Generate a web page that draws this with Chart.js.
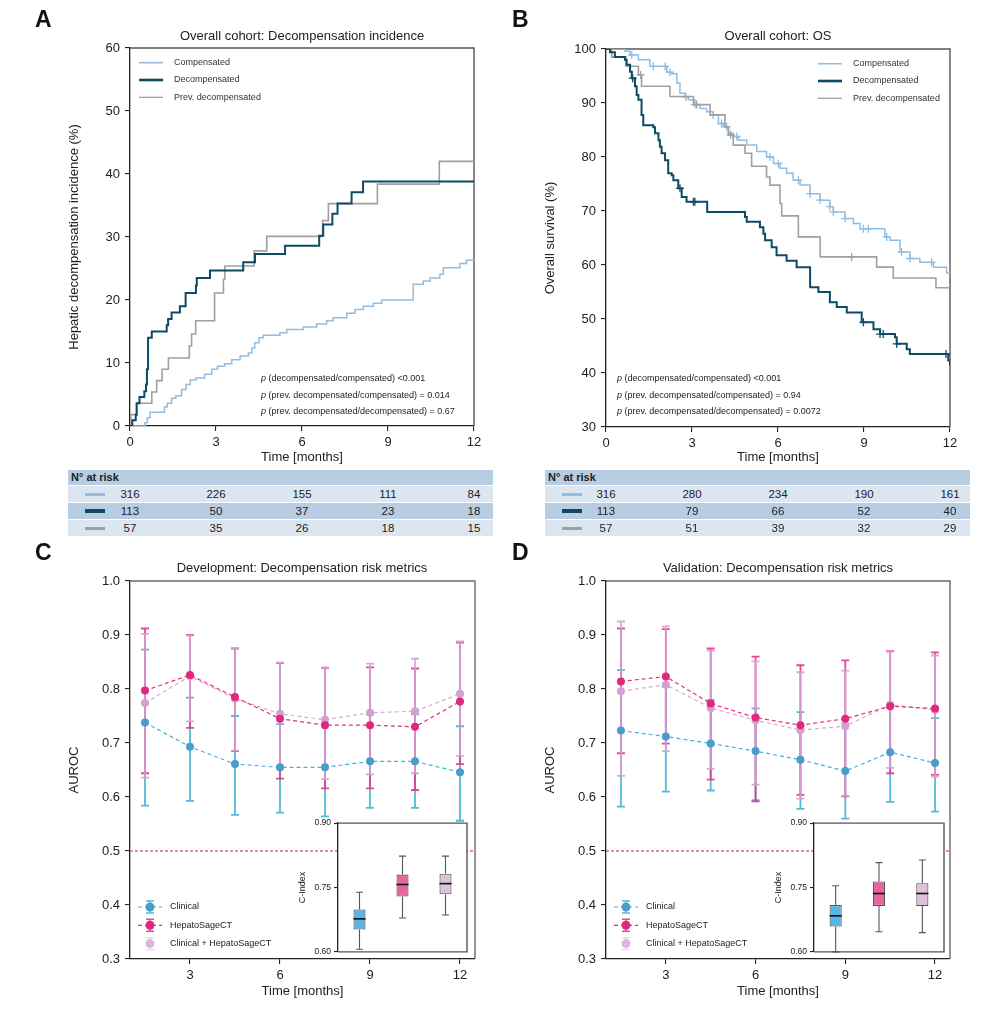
<!DOCTYPE html>
<html lang="en">
<head>
<meta charset="utf-8">
<title>Decompensation figure</title>
<script src="https://cdn.jsdelivr.net/npm/chart.js@4.4.1/dist/chart.umd.min.js"></script>
<style>
  body { margin:0; width:996px; height:1014px; position:relative; overflow:hidden; background:#fff;
         font-family:"Liberation Sans", Arial, sans-serif; color:#222; }
  canvas { position:absolute; }
  .letter { position:absolute; font-size:23px; font-weight:bold; line-height:1; color:#111; }
  .title { position:absolute; width:500px; text-align:center; font-size:13px; line-height:16px; }
  .pval { position:absolute; font-size:9px; line-height:16.5px; white-space:nowrap; }
  .risk { position:absolute; width:425px; font-size:11.5px; }
  .risk .hd { height:15px; line-height:15px; background:#b8cce2; font-weight:bold; font-size:11px; padding-left:3px; box-sizing:border-box; }
  .risk .row { position:relative; height:16px; margin-top:1px; }
  .risk .lt { background:#dce6f1; }
  .risk .dk { background:#b8cce2; }
  .risk .sw { position:absolute; left:17px; top:7px; width:20px; height:3px; }
  .risk .num { position:absolute; top:0; line-height:16px; transform:translateX(-50%); }
</style>
</head>
<body>
<canvas id="cA" width="498" height="466" style="left:0;top:0"></canvas>
<canvas id="cB" width="520" height="466" style="left:476px;top:0"></canvas>
<canvas id="cC" width="498" height="474" style="left:0;top:540px"></canvas>
<canvas id="cD" width="520" height="474" style="left:476px;top:540px"></canvas>
<canvas id="cCi" width="180" height="145" style="left:290px;top:815px"></canvas>
<canvas id="cDi" width="180" height="145" style="left:766px;top:815px"></canvas>

<div class="letter" style="left:35px;top:8px">A</div>
<div class="letter" style="left:512px;top:8px">B</div>
<div class="letter" style="left:35px;top:541px">C</div>
<div class="letter" style="left:512px;top:541px">D</div>

<div class="title" style="left:52px;top:28px">Overall cohort: Decompensation incidence</div>
<div class="title" style="left:528px;top:28px">Overall cohort: OS</div>
<div class="title" style="left:52px;top:560px">Development: Decompensation risk metrics</div>
<div class="title" style="left:528px;top:560px">Validation: Decompensation risk metrics</div>

<div class="pval" style="left:261px;top:370px">
  <i>p</i> (decompensated/compensated) &lt;0.001<br>
  <i>p</i> (prev. decompensated/compensated) = 0.014<br>
  <i>p</i> (prev. decompensated/decompensated) = 0.67
</div>
<div class="pval" style="left:617px;top:370px">
  <i>p</i> (decompensated/compensated) &lt;0.001<br>
  <i>p</i> (prev. decompensated/compensated) = 0.94<br>
  <i>p</i> (prev. decompensated/decompensated) = 0.0072
</div>

<div class="risk" id="rtA" style="left:68px;top:470px">
  <div class="hd">N° at risk</div>
  <div class="row lt"><span class="sw" style="background:#92bde1"></span></div>
  <div class="row dk"><span class="sw" style="background:#0c4a66;height:4px;top:6px"></span></div>
  <div class="row lt"><span class="sw" style="background:#a0a0a0"></span></div>
</div>
<div class="risk" id="rtB" style="left:545px;top:470px">
  <div class="hd">N° at risk</div>
  <div class="row lt"><span class="sw" style="background:#92bde1"></span></div>
  <div class="row dk"><span class="sw" style="background:#0c4a66;height:4px;top:6px"></span></div>
  <div class="row lt"><span class="sw" style="background:#a0a0a0"></span></div>
</div>

<script>
// ---- panel A: cumulative decompensation incidence (%) ----
const A_COMP_T = [0, 0.52, 0.60, 0.70, 1.20, 1.30, 1.45, 1.60, 1.80, 1.95, 2.10, 2.30, 2.60, 2.85, 3.05, 3.30, 3.55, 3.84, 4.13, 4.25, 4.35, 4.50, 4.65, 5.23, 5.47, 6.05, 6.51, 6.86, 7.09, 7.56, 7.85, 8.14, 8.49, 8.78, 9.88, 10.23, 10.47, 10.81, 10.93, 11.51, 11.74, 12];
const A_COMP_V = [0, 0.5, 1.3, 2.2, 3.0, 3.6, 4.4, 4.8, 5.8, 6.6, 7.3, 7.6, 8.2, 9.0, 9.5, 9.9, 10.5, 11.1, 11.6, 12.4, 13.2, 14.0, 14.4, 14.8, 15.3, 15.7, 16.2, 16.7, 17.2, 17.9, 18.5, 19.0, 19.5, 20.0, 22.5, 23.0, 23.5, 24.1, 25.1, 25.8, 26.3, 26.3];
const A_DEC_T = [0, 0.08, 0.20, 0.23, 0.33, 0.50, 0.56, 0.59, 0.63, 0.76, 1.28, 1.33, 1.45, 1.74, 1.94, 2.30, 2.33, 2.79, 3.95, 4.36, 5.41, 6.60, 6.74, 7.06, 7.24, 7.73, 8.13, 12];
const A_DEC_V = [0, 0.9, 1.8, 3.6, 4.6, 5.5, 6.6, 9.0, 14.0, 15.0, 16.0, 17.0, 18.0, 19.0, 21.1, 22.3, 23.5, 24.7, 26.0, 27.3, 28.6, 30.2, 32.0, 33.7, 35.3, 37.1, 38.8, 38.8];
const A_PREV_T = [0, 0.03, 0.24, 0.76, 0.93, 1.12, 1.34, 2.07, 2.15, 2.29, 2.95, 3.26, 3.31, 4.33, 4.77, 6.72, 6.92, 8.63, 10.79, 12];
const A_PREV_V = [0, 1.8, 3.6, 5.4, 7.2, 9.0, 10.8, 12.7, 14.6, 16.7, 21.1, 23.3, 25.4, 27.8, 30.1, 32.6, 35.3, 38.4, 42.0, 42.0];

// ---- panel B: overall survival (%) ----
const B_COMP_T = [0, 0.66, 0.84, 1.13, 1.53, 2.12, 2.29, 2.47, 2.58, 2.76, 2.87, 3.10, 3.28, 3.51, 3.74, 3.92, 4.09, 4.27, 4.44, 4.62, 4.91, 5.26, 5.60, 5.84, 6.07, 6.30, 6.53, 6.77, 7.12, 7.47, 7.81, 7.93, 8.34, 8.63, 8.86, 9.73, 9.91, 10.26, 10.60, 10.95, 11.42, 11.88, 12];
const B_COMP_V = [100, 99.6, 98.9, 98.0, 96.8, 95.7, 95.4, 93.7, 91.8, 91.1, 90.6, 89.7, 89.0, 88.4, 87.8, 86.2, 85.6, 84.4, 83.8, 83.1, 82.2, 81.0, 80.0, 78.8, 77.9, 77.0, 75.7, 74.8, 73.2, 72.0, 70.8, 69.8, 68.6, 67.7, 66.7, 65.2, 64.6, 62.4, 61.2, 60.5, 59.6, 58.5, 58.5];
const B_COMP_CT = [0.90, 1.65, 2.06, 2.23, 2.79, 3.10, 3.74, 4.03, 4.21, 4.56, 5.72, 6.01, 6.71, 7.12, 7.47, 7.81, 7.93, 8.34, 8.98, 9.15, 9.79, 10.31, 10.60, 11.36];
const B_COMP_CV = [98.9, 96.8, 96.8, 95.7, 91.1, 89.7, 87.8, 86.2, 85.6, 83.8, 80.0, 78.8, 75.7, 73.2, 72.0, 70.8, 69.8, 68.6, 66.7, 66.7, 65.2, 62.4, 61.2, 60.5];
const B_DEC_T = [0, 0.14, 0.31, 0.66, 0.72, 0.84, 0.90, 1.01, 1.07, 1.13, 1.24, 1.30, 1.65, 1.71, 1.83, 1.88, 1.94, 2.06, 2.17, 2.29, 2.35, 2.52, 2.64, 2.81, 3.53, 4.85, 4.91, 5.37, 5.49, 5.55, 5.78, 5.95, 6.30, 6.65, 7.12, 7.41, 7.81, 8.05, 8.40, 8.92, 9.33, 9.56, 10.08, 10.14, 10.49, 10.60, 11.94, 12];
const B_DEC_V = [100, 99.4, 98.5, 98.0, 97.1, 95.8, 94.6, 93.1, 91.5, 90.6, 87.8, 85.9, 85.5, 84.4, 83.1, 81.9, 80.7, 79.4, 77.0, 76.6, 75.7, 74.2, 72.6, 71.7, 69.8, 68.9, 68.0, 67.0, 65.8, 64.6, 63.3, 61.8, 60.8, 59.6, 55.9, 55.0, 53.1, 52.2, 51.2, 49.4, 48.1, 47.2, 46.6, 45.4, 44.4, 43.5, 42.3, 41.3];
const B_DEC_CT = [0.93, 2.58, 3.05, 3.10, 8.98, 9.56, 9.67, 10.14, 11.86];
const B_DEC_CV = [94.6, 74.2, 71.7, 71.7, 49.4, 47.2, 47.2, 45.4, 43.5];
const B_PREV_T = [0, 0.20, 0.70, 1.13, 1.24, 2.23, 3.05, 3.63, 4.15, 4.27, 4.44, 4.85, 5.08, 5.60, 5.72, 6.07, 6.13, 6.71, 7.47, 9.44, 10.02, 11.51, 12];
const B_PREV_V = [100, 98.5, 96.8, 95.2, 93.1, 91.2, 89.7, 87.8, 85.6, 84.1, 82.2, 80.7, 78.3, 76.3, 74.8, 71.4, 69.1, 65.2, 61.5, 59.6, 57.6, 55.8, 55.8];
const B_PREV_CT = [1.21, 3.16, 4.35, 8.57];
const B_PREV_CV = [95.2, 89.7, 84.1, 61.5];

// ---- numbers at risk ----
const RISK_T = [0, 3, 6, 9, 12];
const A_RISK_COMP = [316, 226, 155, 111, 84];
const A_RISK_DEC = [113, 50, 37, 23, 18];
const A_RISK_PREV = [57, 35, 26, 18, 15];
const B_RISK_COMP = [316, 280, 234, 190, 161];
const B_RISK_DEC = [113, 79, 66, 52, 40];
const B_RISK_PREV = [57, 51, 39, 32, 29];

// ---- panels C/D: time-dependent AUROC with CI ----
const M_T = [1.5, 3, 4.5, 6, 7.5, 9, 10.5, 12];
const M_XTICKS = [3, 6, 9, 12];
const M_YTICKS = [0.3, 0.4, 0.5, 0.6, 0.7, 0.8, 0.9, 1.0];
const REF_X = [1, 12.5];
const REF_AUC = 0.5;

const C_CLIN = [0.738, 0.693, 0.661, 0.655, 0.655, 0.666, 0.666, 0.646];
const C_CLIN_LO = [0.584, 0.593, 0.567, 0.571, 0.564, 0.580, 0.580, 0.556];
const C_CLIN_HI = [0.873, 0.784, 0.750, 0.735, 0.735, 0.753, 0.753, 0.731];
const C_HEP = [0.797, 0.826, 0.785, 0.745, 0.733, 0.733, 0.730, 0.777];
const C_HEP_LO = [0.644, 0.728, 0.685, 0.634, 0.616, 0.616, 0.613, 0.661];
const C_HEP_HI = [0.912, 0.900, 0.875, 0.848, 0.839, 0.840, 0.838, 0.886];
const C_CMB = [0.774, 0.824, 0.782, 0.754, 0.743, 0.756, 0.759, 0.791];
const C_CMB_LO = [0.636, 0.740, 0.686, 0.655, 0.633, 0.642, 0.644, 0.676];
const C_CMB_HI = [0.902, 0.899, 0.875, 0.849, 0.840, 0.847, 0.856, 0.888];

const D_CLIN = [0.723, 0.712, 0.699, 0.685, 0.669, 0.648, 0.683, 0.663];
const D_CLIN_LO = [0.582, 0.610, 0.612, 0.594, 0.578, 0.560, 0.591, 0.573];
const D_CLIN_HI = [0.835, 0.804, 0.780, 0.764, 0.757, 0.736, 0.768, 0.746];
const D_HEP = [0.814, 0.823, 0.773, 0.747, 0.733, 0.745, 0.768, 0.764];
const D_HEP_LO = [0.681, 0.699, 0.632, 0.592, 0.604, 0.601, 0.644, 0.641];
const D_HEP_HI = [0.912, 0.911, 0.875, 0.860, 0.844, 0.853, 0.870, 0.868];
const D_CMB = [0.796, 0.808, 0.765, 0.742, 0.724, 0.731, 0.771, 0.761];
const D_CMB_LO = [0.639, 0.685, 0.652, 0.623, 0.597, 0.602, 0.654, 0.638];
const D_CMB_HI = [0.925, 0.916, 0.871, 0.851, 0.831, 0.834, 0.869, 0.862];

// ---- insets: C-index distributions ----
const BOX_LABELS = ['Clinical', 'HepatoSageCT', 'Clinical + HepatoSageCT'];
const BOX_YTICKS = [0.60, 0.75, 0.90];
const CI_MIN = [0.606, 0.679, 0.686];
const CI_Q1 = [0.652, 0.729, 0.734];
const CI_MED = [0.677, 0.757, 0.759];
const CI_Q3 = [0.699, 0.780, 0.782];
const CI_MAX = [0.739, 0.823, 0.823];
const DI_MIN = [0.600, 0.647, 0.645];
const DI_Q1 = [0.659, 0.707, 0.707];
const DI_MED = [0.684, 0.736, 0.736];
const DI_Q3 = [0.709, 0.764, 0.760];
const DI_MAX = [0.754, 0.808, 0.814];

const KM_LABELS = ['Compensated', 'Decompensated', 'Prev. decompensated'];

const FONT = '"Liberation Sans", Arial, sans-serif';
Chart.defaults.font.family = FONT;
Chart.defaults.color = '#222';

const COL_COMP = '#92bde1', COL_DEC = '#0c4a66', COL_PREV = '#a0a0a0';
const CLIN = { line: '#3fb4d6', point: '#4a9ccb', err: 'rgba(64,178,214,0.9)' };
const HEP = { line: '#e2307f', point: '#e0287f', err: 'rgba(228,52,136,0.9)' };
const CMB = { line: '#d9a9d6', point: '#d3a1d1', err: 'rgba(212,162,210,0.9)' };

function linAxis(o) {
  return {
    type: 'linear', min: o.min, max: o.max,
    ticks: { font: { size: o.fs || 13 }, padding: o.pad || 4, color: '#222', stepSize: o.step, callback: o.fmt },
    grid: { drawOnChartArea: false, tickLength: o.tl || 5, color: '#222', lineWidth: 1.1 },
    border: { display: true, color: '#222', width: 1.3 },
    title: o.title ? { display: true, text: o.title, font: { size: o.tfs || 13 }, color: '#222', padding: o.tpad || { top: 4, bottom: 4 } } : { display: false },
    afterFit: s => { if (s.isHorizontal()) s.height = o.size; else s.width = o.size; },
    afterBuildTicks: o.list ? (s => { s.ticks = o.list.map(v => ({ value: v })); }) : undefined
  };
}

function frame(fill, color) {
  return {
    id: 'frame',
    beforeDraw(c) {
      if (!fill) return;
      const a = c.chartArea, g = c.ctx;
      g.save(); g.fillStyle = '#fff'; g.fillRect(a.left, a.top, a.width, a.height); g.restore();
    },
    beforeDatasetsDraw(c) {
      const a = c.chartArea, g = c.ctx;
      g.save();
      g.strokeStyle = color || '#666'; g.lineWidth = 1.4;
      g.beginPath();
      g.moveTo(a.left, a.top); g.lineTo(a.right, a.top); g.lineTo(a.right, a.bottom);
      if (fill) g.lineTo(a.left, a.bottom);
      g.stroke();
      g.restore();
    }
  };
}

function kmLine(T, V, color, width) {
  return { type: 'line', data: T.map((t, i) => ({ x: t, y: V[i] })), borderColor: color, borderWidth: width,
           stepped: 'before', pointRadius: 0, fill: false };
}
function censor(T, V, color) {
  return { type: 'scatter', data: T.map((t, i) => ({ x: t, y: V[i] })), pointStyle: 'cross', pointRadius: 4,
           borderColor: color, backgroundColor: color, borderWidth: 1.3 };
}

function kmLegend(side) {
  const items = [[COL_COMP, 1.6], [COL_DEC, 2.6], [COL_PREV, 1.3]];
  return {
    id: 'kmlegend',
    afterDatasetsDraw(c) {
      const a = c.chartArea, g = c.ctx;
      g.save();
      g.font = '9px ' + FONT; g.textBaseline = 'middle'; g.fillStyle = '#333';
      items.forEach((it, k) => {
        const y = a.top + 14.7 + k * 17.3;
        const x0 = side === 'right' ? a.right - 132 : a.left + 9;
        g.strokeStyle = it[0]; g.lineWidth = it[1];
        g.beginPath(); g.moveTo(x0, y); g.lineTo(x0 + 24, y); g.stroke();
        g.fillText(KM_LABELS[k], x0 + 35, y);
      });
      g.restore();
    }
  };
}

function kmChart(id, sets, ymin, ymax, ytitle, pad, xsize) {
  return new Chart(document.getElementById(id), {
    type: 'line',
    data: { datasets: sets.ds },
    options: {
      responsive: false, animation: false,
      layout: { padding: pad },
      plugins: { legend: { display: false }, tooltip: { enabled: false } },
      scales: {
        x: linAxis({ min: 0, max: 12, step: 3, title: 'Time [months]', size: xsize, tpad: { top: 4, bottom: 1 } }),
        y: linAxis({ min: ymin, max: ymax, step: 10, title: ytitle, size: 67, pad: 5 })
      }
    },
    plugins: [frame(false, '#555'), kmLegend(sets.side)]
  });
}

const chartA = kmChart('cA', {
  side: 'left',
  ds: [kmLine(A_DEC_T, A_DEC_V, COL_DEC, 2), kmLine(A_PREV_T, A_PREV_V, COL_PREV, 1.6), kmLine(A_COMP_T, A_COMP_V, COL_COMP, 1.5)]
}, 0, 60, 'Hepatic decompensation incidence (%)', { left: 63, right: 24, top: 48, bottom: 0 }, 40);

const chartB = kmChart('cB', {
  side: 'right',
  ds: [censor(B_DEC_CT, B_DEC_CV, COL_DEC), kmLine(B_DEC_T, B_DEC_V, COL_DEC, 2),
       censor(B_PREV_CT, B_PREV_CV, COL_PREV), kmLine(B_PREV_T, B_PREV_V, COL_PREV, 1.6),
       censor(B_COMP_CT, B_COMP_CV, COL_COMP), kmLine(B_COMP_T, B_COMP_V, COL_COMP, 1.5)]
}, 30, 100, 'Overall survival (%)', { left: 63, right: 46, top: 49, bottom: 0 }, 39);

// ---- metric panels ----
function metricSet(V, st) {
  return { type: 'line', data: M_T.map((t, i) => ({ x: t, y: V[i] })), borderColor: st.line, borderWidth: 1.2,
           borderDash: [4, 3], pointRadius: 4, pointBackgroundColor: st.point, pointBorderColor: st.point,
           pointBorderWidth: 0, fill: false, tension: 0 };
}

function errorBars(groups) {
  return {
    id: 'errorbars',
    beforeDatasetsDraw(c) {
      const g = c.ctx, x = c.scales.x, y = c.scales.y;
      g.save();
      groups.forEach(gr => {
        g.strokeStyle = gr.st.err; g.lineWidth = 1.8;
        M_T.forEach((t, i) => {
          const px = x.getPixelForValue(t), lo = y.getPixelForValue(gr.lo[i]), hi = y.getPixelForValue(gr.hi[i]);
          g.beginPath();
          g.moveTo(px, lo); g.lineTo(px, hi);
          g.moveTo(px - 4, lo); g.lineTo(px + 4, lo);
          g.moveTo(px - 4, hi); g.lineTo(px + 4, hi);
          g.stroke();
        });
      });
      g.restore();
    }
  };
}

function metricLegend() {
  const items = [[CLIN, BOX_LABELS[0]], [HEP, BOX_LABELS[1]], [CMB, BOX_LABELS[2]]];
  return {
    id: 'metriclegend',
    afterDatasetsDraw(c) {
      const a = c.chartArea, g = c.ctx;
      g.save();
      g.font = '9px ' + FONT; g.textBaseline = 'middle';
      items.forEach((it, k) => {
        const st = it[0], y = a.bottom - 52 + k * 18.3, x = a.left + 20;
        if (k < 2) {
          g.strokeStyle = st.line; g.lineWidth = 1.2; g.setLineDash([4, 3]);
          g.beginPath(); g.moveTo(x - 12, y); g.lineTo(x + 12, y); g.stroke();
          g.setLineDash([]);
        }
        g.strokeStyle = k < 2 ? st.err : 'rgba(212,162,210,0.45)'; g.lineWidth = 1.4;
        g.beginPath();
        g.moveTo(x, y - 6); g.lineTo(x, y + 6);
        g.moveTo(x - 4, y - 6); g.lineTo(x + 4, y - 6);
        g.moveTo(x - 4, y + 6); g.lineTo(x + 4, y + 6);
        g.stroke();
        g.fillStyle = k < 2 ? st.point : '#dcb8dc';
        g.beginPath(); g.arc(x, y, 4.5, 0, Math.PI * 2); g.fill();
        g.fillStyle = '#222';
        g.fillText(it[1], x + 20, y);
      });
      g.restore();
    }
  };
}

function metricChart(id, clin, hep, cmb, pad) {
  return new Chart(document.getElementById(id), {
    type: 'line',
    data: {
      datasets: [
        metricSet(hep.v, HEP), metricSet(cmb.v, CMB), metricSet(clin.v, CLIN),
        { type: 'line', data: REF_X.map(x => ({ x: x, y: REF_AUC })), borderColor: '#d41e1e', borderWidth: 1,
          borderDash: [3, 2], pointRadius: 0, fill: false }
      ]
    },
    options: {
      responsive: false, animation: false,
      layout: { padding: pad },
      plugins: { legend: { display: false }, tooltip: { enabled: false } },
      scales: {
        x: linAxis({ min: 1, max: 12.5, list: M_XTICKS, title: 'Time [months]', size: 44 }),
        y: linAxis({ min: 0.3, max: 1.0, list: M_YTICKS, fmt: v => v.toFixed(1), title: 'AUROC', size: 67, pad: 5 })
      }
    },
    plugins: [frame(false, '#6a6a6a'),
              errorBars([{ st: CLIN, lo: clin.lo, hi: clin.hi }, { st: HEP, lo: hep.lo, hi: hep.hi }, { st: CMB, lo: cmb.lo, hi: cmb.hi }]),
              metricLegend()]
  });
}

metricChart('cC', { v: C_CLIN, lo: C_CLIN_LO, hi: C_CLIN_HI }, { v: C_HEP, lo: C_HEP_LO, hi: C_HEP_HI },
            { v: C_CMB, lo: C_CMB_LO, hi: C_CMB_HI }, { left: 63, right: 23, top: 41, bottom: 11 });
metricChart('cD', { v: D_CLIN, lo: D_CLIN_LO, hi: D_CLIN_HI }, { v: D_HEP, lo: D_HEP_LO, hi: D_HEP_HI },
            { v: D_CMB, lo: D_CMB_LO, hi: D_CMB_HI }, { left: 63, right: 46, top: 41, bottom: 11 });

// ---- C-index insets ----
function whiskers(MIN, MED, MAX) {
  return {
    id: 'whiskers',
    afterDatasetsDraw(c) {
      const g = c.ctx, y = c.scales.y, meta = c.getDatasetMeta(0);
      g.save();
      meta.data.forEach((bar, i) => {
        const px = bar.x, hw = bar.width / 2;
        const top = Math.min(bar.y, bar.base), bot = Math.max(bar.y, bar.base);
        const yMax = y.getPixelForValue(MAX[i]), yMin = y.getPixelForValue(MIN[i]), yMed = y.getPixelForValue(MED[i]);
        g.strokeStyle = '#555'; g.lineWidth = 1.1;
        g.beginPath();
        g.moveTo(px, top); g.lineTo(px, yMax);
        g.moveTo(px, bot); g.lineTo(px, yMin);
        g.moveTo(px - 3.5, yMax); g.lineTo(px + 3.5, yMax);
        g.moveTo(px - 3.5, yMin); g.lineTo(px + 3.5, yMin);
        g.stroke();
        g.strokeStyle = '#111'; g.lineWidth = 1.6;
        g.beginPath(); g.moveTo(px - hw, yMed); g.lineTo(px + hw, yMed); g.stroke();
      });
      g.restore();
    }
  };
}

function boxChart(id, MIN, Q1, MED, Q3, MAX, padRight) {
  return new Chart(document.getElementById(id), {
    type: 'bar',
    data: {
      labels: BOX_LABELS,
      datasets: [{
        data: Q1.map((q, i) => [q, Q3[i]]),
        backgroundColor: ['#5ab4e5', '#e8649e', '#dcc2dd'],
        borderColor: '#555', borderWidth: 1.1, borderSkipped: false,
        barPercentage: 0.28, categoryPercentage: 1
      }]
    },
    options: {
      responsive: false, animation: false,
      layout: { padding: { left: 6, right: padRight, top: 8, bottom: 8 } },
      plugins: { legend: { display: false }, tooltip: { enabled: false } },
      scales: {
        x: { display: false },
        y: linAxis({ min: 0.6, max: 0.9, list: BOX_YTICKS, fmt: v => v.toFixed(2), fs: 8.5, tl: 4, pad: 3,
                     title: 'C-Index', tfs: 9, tpad: { top: 1, bottom: 1 }, size: 42 })
      }
    },
    plugins: [frame(true, '#555'), whiskers(MIN, MED, MAX)]
  });
}

boxChart('cCi', CI_MIN, CI_Q1, CI_MED, CI_Q3, CI_MAX, 3);
boxChart('cDi', DI_MIN, DI_Q1, DI_MED, DI_Q3, DI_MAX, 2);

// ---- numbers-at-risk tables, aligned to each KM x axis ----
function fillRisk(tableId, chart, canvasLeft, rows) {
  const box = document.getElementById(tableId);
  const rowEls = box.querySelectorAll('.row');
  const tableLeft = box.offsetLeft;
  rows.forEach((counts, r) => {
    counts.forEach((n, i) => {
      const d = document.createElement('div');
      d.className = 'num';
      d.textContent = n;
      d.style.left = (canvasLeft + chart.scales.x.getPixelForValue(RISK_T[i]) - tableLeft) + 'px';
      rowEls[r].appendChild(d);
    });
  });
}
fillRisk('rtA', chartA, 0, [A_RISK_COMP, A_RISK_DEC, A_RISK_PREV]);
fillRisk('rtB', chartB, 476, [B_RISK_COMP, B_RISK_DEC, B_RISK_PREV]);
</script>
</body>
</html>
